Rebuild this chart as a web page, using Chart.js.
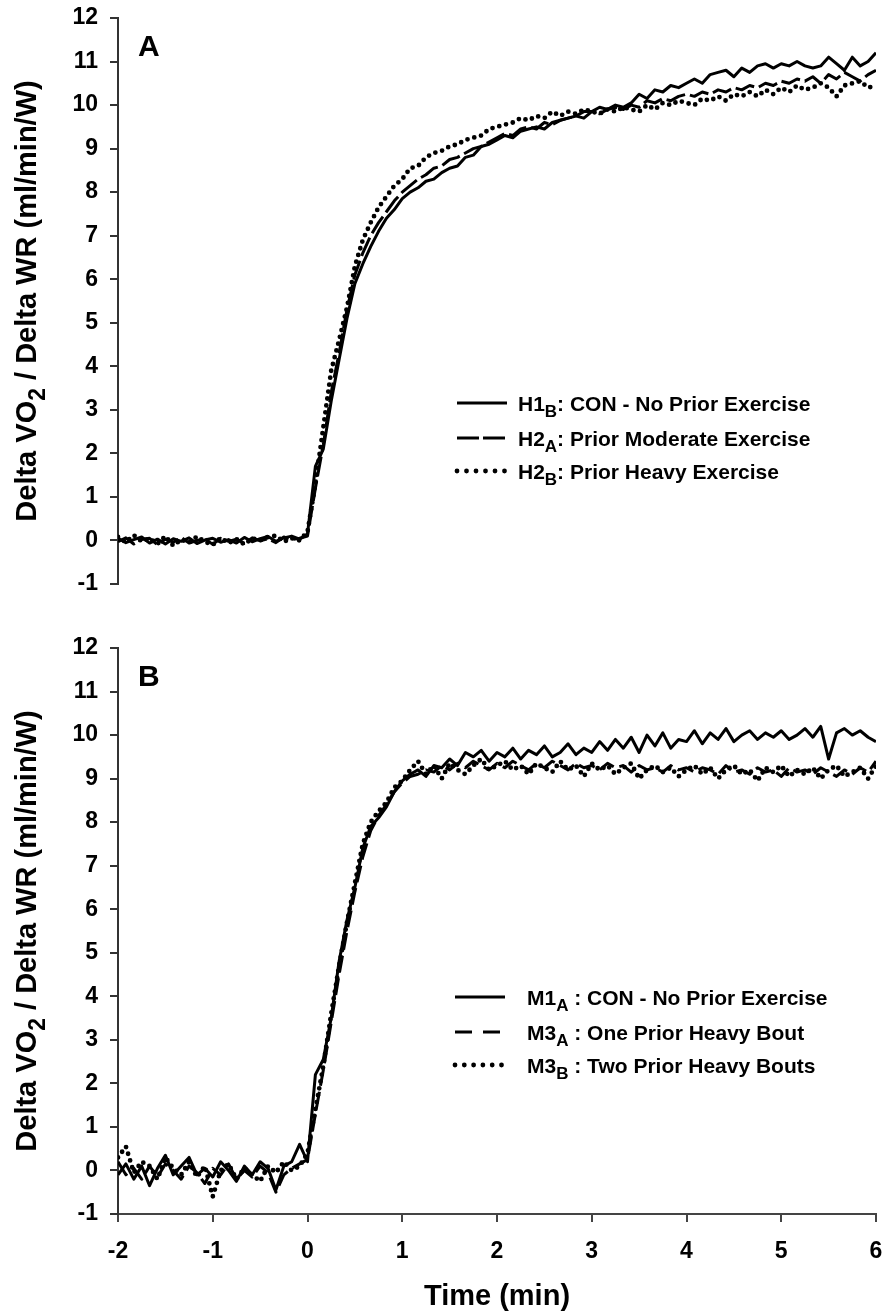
<!DOCTYPE html>
<html>
<head>
<meta charset="utf-8">
<script src="https://cdn.jsdelivr.net/npm/chart.js@4/dist/chart.umd.min.js"></script>
<style>
html, body { margin: 0; padding: 0; background: #fff; }
#wrap { position: relative; width: 886px; height: 1314px; }
canvas { position: absolute; left: 0; }
#chartA { top: 0; }
#chartB { top: 630px; }
</style>
</head>
<body>
<div id="wrap">
<canvas id="chartA" width="886" height="600"></canvas>
<canvas id="chartB" width="886" height="684"></canvas>
</div>
<script>
// sample times, every 5 s from -2 to 6 min
const timeSec = [];
for (let s = -120; s <= 360; s += 5) timeSec.push(s);

// Panel A
const h1b = [0.05,-0.05,0.02,0.08,-0.06,0.03,-0.08,0.04,-0.02,0.06,-0.07,0.01,0.05,-0.04,0.02,-0.06,0.07,-0.03,0.04,0.09,-0.02,0.06,0.1,0.03,
  0.15,1.7,2.1,3.2,4.15,5.1,5.9,6.35,6.75,7.1,7.4,7.6,7.85,8.0,8.1,8.25,8.3,8.45,8.55,8.6,8.8,8.85,9.05,9.1,9.2,
  9.3,9.25,9.4,9.45,9.5,9.45,9.6,9.65,9.7,9.75,9.85,9.85,9.95,9.9,10.0,9.95,10.05,10.25,10.15,10.35,10.3,10.45,10.4,10.5,
  10.6,10.5,10.7,10.75,10.8,10.65,10.85,10.75,10.9,10.95,10.85,10.95,10.9,11.0,10.9,10.85,10.9,11.1,10.95,10.8,11.1,10.9,11.0,11.2];
const h2a = [-0.03,0.06,-0.08,0.02,0.05,-0.1,0.03,-0.04,0.07,-0.06,0.0,0.04,-0.09,0.05,-0.02,0.03,-0.07,0.06,-0.01,0.04,-0.05,0.08,0.02,0.05,
  0.1,1.2,2.2,3.4,4.3,5.3,6.1,6.6,7.0,7.3,7.55,7.8,8.0,8.15,8.3,8.4,8.55,8.6,8.75,8.8,8.9,9.0,9.05,9.15,9.25,
  9.35,9.3,9.45,9.5,9.45,9.6,9.55,9.65,9.7,9.75,9.7,9.85,9.8,9.9,9.95,9.9,10.0,9.95,10.1,10.05,10.15,10.1,10.2,10.25,
  10.2,10.3,10.25,10.35,10.3,10.4,10.35,10.45,10.4,10.5,10.45,10.55,10.5,10.6,10.55,10.65,10.5,10.7,10.6,10.75,10.65,10.55,10.7,10.8];
const h2b = [0.08,-0.04,0.12,-0.02,0.04,-0.08,0.1,-0.12,0.02,-0.05,0.09,-0.03,-0.1,0.06,-0.06,0.03,-0.09,0.05,0.0,0.08,0.11,-0.03,0.05,0.0,
  0.2,1.3,2.6,3.9,4.6,5.35,6.3,6.9,7.3,7.65,7.9,8.15,8.3,8.55,8.6,8.8,8.9,8.95,9.05,9.1,9.2,9.25,9.3,9.45,9.5,
  9.55,9.6,9.7,9.65,9.75,9.7,9.85,9.75,9.85,9.8,9.9,9.85,9.8,9.9,9.85,9.95,9.9,9.85,10.0,9.9,10.05,10.0,10.1,10.05,
  10.0,10.15,10.1,10.2,10.1,10.25,10.2,10.3,10.2,10.35,10.25,10.4,10.3,10.45,10.35,10.4,10.5,10.4,10.2,10.45,10.5,10.55,10.4,10.45];

// Panel B
const m1a = [-0.1,0.15,-0.2,0.1,-0.35,0.05,0.35,-0.1,0.1,0.3,-0.1,0.05,-0.15,0.2,0.0,-0.25,0.1,-0.1,0.2,0.05,-0.45,0.1,0.2,0.6,
  0.2,2.2,2.55,3.5,4.8,5.75,6.5,7.4,7.9,8.1,8.35,8.7,8.95,9.1,9.2,9.05,9.3,9.25,9.45,9.3,9.6,9.5,9.65,9.4,9.6,
  9.5,9.7,9.45,9.65,9.55,9.75,9.5,9.6,9.8,9.55,9.7,9.6,9.85,9.65,9.9,9.7,9.95,9.6,10.0,9.75,10.05,9.7,9.9,9.85,
  10.1,9.8,10.05,9.9,10.15,9.85,10.0,10.1,9.9,10.05,9.95,10.1,9.9,10.0,10.15,9.95,10.2,9.45,10.05,10.15,10.0,10.1,9.95,9.85];
const m3a = [0.2,-0.1,0.05,-0.2,0.1,-0.15,0.15,0.0,-0.2,0.1,-0.05,-0.3,0.05,-0.1,0.15,-0.2,0.0,-0.15,0.1,-0.05,-0.5,-0.1,0.05,0.15,
  0.25,1.3,2.3,3.4,4.5,5.5,6.4,7.2,7.8,8.15,8.4,8.7,8.9,9.05,9.1,9.2,9.15,9.3,9.2,9.35,9.25,9.4,9.3,9.2,9.35,
  9.25,9.4,9.3,9.2,9.35,9.25,9.4,9.3,9.2,9.35,9.25,9.3,9.2,9.35,9.25,9.3,9.15,9.3,9.2,9.25,9.15,9.3,9.2,9.25,
  9.15,9.25,9.2,9.1,9.3,9.15,9.2,9.1,9.25,9.15,9.2,9.05,9.25,9.15,9.2,9.1,9.25,9.15,9.05,9.2,9.1,9.25,9.15,9.4];
const m3b = [0.3,0.55,-0.05,0.2,0.1,-0.2,0.3,0.05,-0.1,0.2,-0.15,0.1,-0.6,0.0,0.15,-0.2,0.05,-0.1,-0.25,0.1,-0.05,0.2,0.0,0.1,
  0.4,1.4,2.4,3.6,4.7,5.7,6.6,7.5,8.0,8.25,8.45,8.8,8.95,9.2,9.4,9.1,9.3,9.0,9.35,9.2,9.1,9.3,9.45,9.2,9.3,
  9.4,9.2,9.3,9.1,9.35,9.25,9.15,9.4,9.2,9.3,9.05,9.35,9.2,9.3,9.1,9.25,9.35,9.0,9.2,9.3,9.15,9.25,9.05,9.2,
  9.3,9.1,9.25,9.0,9.2,9.3,9.1,9.2,8.95,9.25,9.15,9.3,9.05,9.2,9.1,9.25,9.0,9.2,9.3,9.05,9.15,9.25,9.0,9.3];

const legendA = [['H1', 'B', ': CON - No Prior Exercise'], ['H2', 'A', ': Prior Moderate Exercise'], ['H2', 'B', ': Prior Heavy Exercise']];
const legendB = [['M1', 'A', ' : CON - No Prior Exercise'], ['M3', 'A', ' : One Prior Heavy Bout'], ['M3', 'B', ' : Two Prior Heavy Bouts']];
const yTitle = ['Delta VO', '2', ' / Delta WR (ml/min/W)'];
const xTitle = 'Time (min)';

const FONT = '"Liberation Sans", Arial, Helvetica, sans-serif';

function drawRich(ctx, parts, x, y, size) {
    let cx = x;
    parts.forEach(function (p, k) {
        const sub = k === 1;
        ctx.font = 'bold ' + (sub ? Math.round(size * 0.8) : size) + 'px ' + FONT;
        ctx.fillText(p, cx, sub ? y + size * 0.3 : y);
        cx += ctx.measureText(p).width;
    });
    return cx - x;
}

function richWidth(ctx, parts, size) {
    let w = 0;
    parts.forEach(function (p, k) {
        ctx.font = 'bold ' + (k === 1 ? Math.round(size * 0.8) : size) + 'px ' + FONT;
        w += ctx.measureText(p).width;
    });
    return w;
}

const figureText = {
    id: 'figureText',
    afterDraw(chart, args, o) {
        const ctx = chart.ctx;
        const area = chart.chartArea;
        ctx.save();
        ctx.fillStyle = '#000';
        ctx.textAlign = 'left';
        ctx.textBaseline = 'alphabetic';

        // panel letter
        ctx.font = 'bold 30px ' + FONT;
        ctx.fillText(o.letter, o.letterX, o.letterY);

        // y axis title, rotated
        ctx.save();
        const cy = (area.top + area.bottom) / 2;
        ctx.translate(36, cy);
        ctx.rotate(-Math.PI / 2);
        const w = richWidth(ctx, yTitle, 29);
        drawRich(ctx, yTitle, -w / 2, 0, 29);
        ctx.restore();

        // x axis title
        if (o.xTitle) {
            ctx.font = 'bold 29px ' + FONT;
            ctx.textAlign = 'center';
            ctx.fillText(xTitle, (area.left + area.right) / 2, o.xTitleY);
            ctx.textAlign = 'left';
        }

        // legend
        o.rows.forEach(function (parts, i) {
            const y = o.legendY[i];
            const st = o.styles[i];
            ctx.save();
            ctx.strokeStyle = '#000';
            ctx.lineWidth = st.width;
            ctx.lineCap = st.cap;
            ctx.setLineDash(st.dash);
            ctx.beginPath();
            ctx.moveTo(o.lineX0, y);
            ctx.lineTo(o.lineX1, y);
            ctx.stroke();
            ctx.restore();
            drawRich(ctx, parts, o.textX, y + 7.5, 21);
        });
        ctx.restore();
    }
};

function toPoints(vals) {
    return vals.map(function (v, i) { return { x: timeSec[i] / 60, y: v }; });
}

function makePanel(id, series, dashes, legendOpts, showX) {
    const datasets = series.map(function (vals, i) {
        const st = dashes[i];
        return {
            data: toPoints(vals),
            borderColor: '#000',
            borderWidth: st.width,
            borderDash: st.plotDash,
            borderCapStyle: st.cap,
            borderJoinStyle: 'round',
            pointRadius: 0,
            tension: 0,
            fill: false
        };
    });
    const tickFont = { family: FONT, size: 23, weight: 'bold' };
    const xScale = {
        type: 'linear', min: -2, max: 6,
        display: showX,
        ticks: { stepSize: 1, color: '#000', font: tickFont, padding: 16, maxRotation: 0, autoSkip: false },
        grid: { drawOnChartArea: false, drawTicks: true, tickLength: 8, color: '#444', lineWidth: 2 },
        border: { display: true, color: '#444', width: 2 }
    };
    if (showX) {
        xScale.afterFit = function (s) {
            s.height = 100;
            s.paddingLeft = 0;
            s.paddingRight = 0;
        };
    }
    new Chart(document.getElementById(id), {
        type: 'line',
        data: { datasets: datasets },
        options: {
            responsive: false,
            animation: false,
            events: [],
            layout: { padding: { top: 18, right: 10, bottom: showX ? 0 : 16, left: 0 } },
            plugins: {
                legend: { display: false },
                tooltip: { enabled: false },
                figureText: legendOpts
            },
            scales: {
                x: xScale,
                y: {
                    type: 'linear', min: -1, max: 12,
                    afterFit: function (s) {
                        s.width = 118;
                        s.paddingTop = 0;
                        s.paddingBottom = 0;
                    },
                    ticks: { stepSize: 1, color: '#000', font: tickFont, padding: 12 },
                    grid: { drawOnChartArea: false, drawTicks: true, tickLength: 8, color: '#333', lineWidth: 2 },
                    border: { display: true, color: '#333', width: 2 }
                }
            }
        },
        plugins: [figureText]
    });
}

const stylesA = [
    { width: 3, cap: 'butt', dash: [], plotDash: [] },
    { width: 3, cap: 'butt', dash: [22, 4], plotDash: [20, 5] },
    { width: 4.8, cap: 'round', dash: [0, 9.5], plotDash: [0, 7] }
];
const stylesB = [
    { width: 3, cap: 'butt', dash: [], plotDash: [] },
    { width: 3, cap: 'butt', dash: [17, 11], plotDash: [17, 6] },
    { width: 4.8, cap: 'round', dash: [0, 9.3], plotDash: [0, 7] }
];

makePanel('chartA', [h1b, h2a, h2b], stylesA, {
    letter: 'A', letterX: 138, letterY: 56,
    rows: legendA, styles: stylesA, legendY: [403, 438, 471],
    lineX0: 457, lineX1: 507, textX: 518, xTitle: false
}, false);

makePanel('chartB', [m1a, m3a, m3b], stylesB, {
    letter: 'B', letterX: 138, letterY: 56,
    rows: legendB, styles: stylesB, legendY: [367, 402, 435],
    lineX0: 455, lineX1: 505, textX: 527, xTitle: true, xTitleY: 675
}, true);
</script>
</body>
</html>
